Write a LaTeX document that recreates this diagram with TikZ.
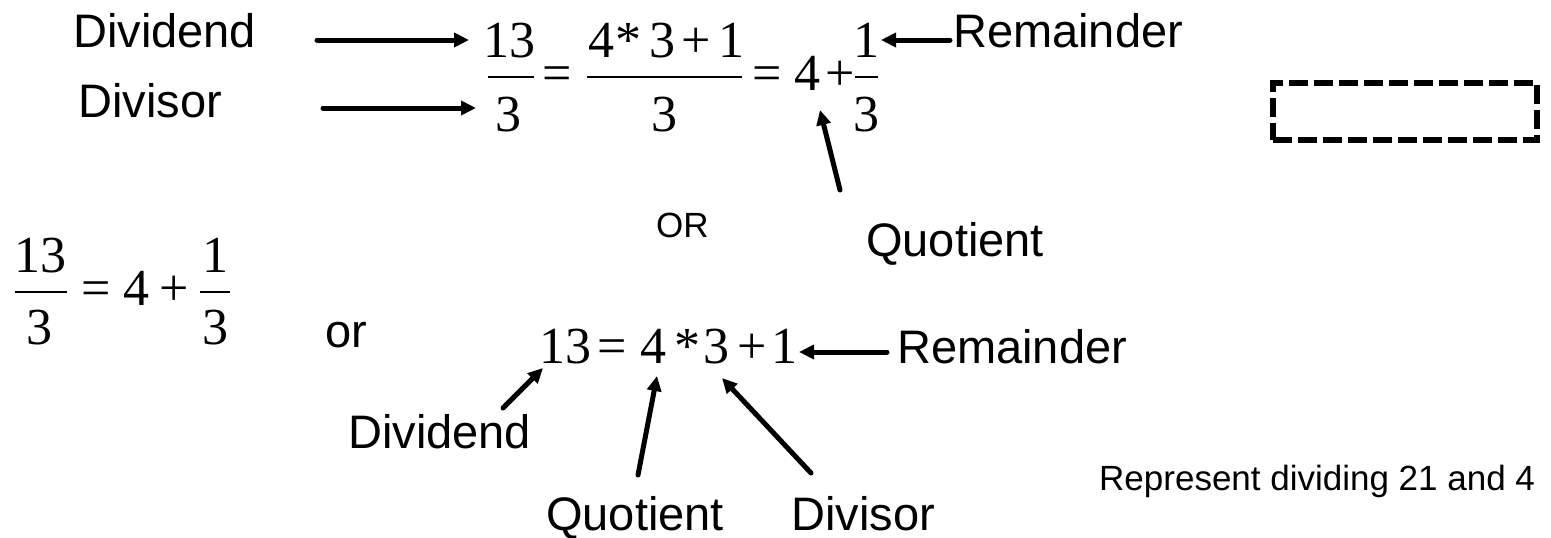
\documentclass[tikz,border=0pt]{standalone}
\usepackage{fontspec}
\setmainfont{Liberation Sans}
\newfontfamily\tms{Liberation Serif}
\usetikzlibrary{arrows.meta}
\tikzset{
 lab/.style={font=\fontsize{47}{50}\selectfont, inner sep=0pt, anchor=base west},
 smalllab/.style={font=\fontsize{35}{38}\selectfont, inner sep=0pt, anchor=base west},
 mth/.style={font=\tms\fontsize{52}{55}\selectfont, inner sep=0pt, anchor=base},
 fbar/.style={line width=2.5pt},
 arr/.style={line width=5pt, line cap=round, -{Triangle[length=15pt,width=14pt]}},
 dbox/.style={draw, line width=6pt, dash pattern=on 19pt off 6pt, minimum width=264pt, minimum height=57pt, inner sep=0pt}
}
\begin{document}
\begin{tikzpicture}[x=1pt,y=-1pt]
\path[use as bounding box] (0,0) rectangle (1551,538);

% ---------- top equation ----------
\node[lab] (dividendA) at (73,47) {Dividend};
\node[lab] (divisorA) at (78,117) {Divisor};
\node[mth] (t13) at (509,57) {13};
\draw[fbar] (488,77) -- (534,77);
\node[mth] (t3a) at (508,131) {3};
\node[mth] (teqa) at (557,90) {=};
\node[mth] (tn4) at (601,57) {4};
\node[mth] (tnst) at (628,57) {*};
\node[mth] (tn3) at (662,57) {3};
\node[mth] (tnp) at (696,57) {+};
\node[mth] (tn1) at (731,57) {1};
\draw[fbar] (587,77) -- (742,77);
\node[mth] (t3b) at (664,131) {3};
\node[mth] (teqb) at (767,90) {=};
\node[mth] (t4) at (807,90) {4};
\node[mth] (tplus) at (840,90) {+};
\node[mth] (t1) at (866,57) {1};
\draw[fbar] (855,77) -- (878,77);
\node[mth] (t3c) at (866,131) {3};
\node[lab] (remA) at (953,47) {Remainder};
\node[lab] (quotA) at (866,256) {Quotient};
\node[smalllab] (orA) at (656,237) {OR};

\coordinate (a1s) at (317,40);  \coordinate (a1e) at (469,40);
\coordinate (a2s) at (323,108); \coordinate (a2e) at (476,108);
\coordinate (a3s) at (950,40);  \coordinate (a3e) at (881,40);
\coordinate (a4s) at (840,190); \coordinate (a4e) at (820,110);
\draw[arr] (a1s) -- (a1e);
\draw[arr] (a2s) -- (a2e);
\draw[arr] (a3s) -- (a3e);
\draw[arr] (a4s) -- (a4e);

% ---------- dashed box ----------
\node[dbox] (box) at (1405,111.5) {};

% ---------- left equation ----------
\node[mth] (l13) at (40,272) {13};
\draw[fbar] (15,292) -- (67,292);
\node[mth] (l3a) at (40,344) {3};
\node[mth] (leq) at (96,305) {=};
\node[mth] (l4) at (136,305) {4};
\node[mth] (lplus) at (174,305) {+};
\node[mth] (l1) at (215,272) {1};
\draw[fbar] (200,292) -- (230,292);
\node[mth] (l3b) at (215,344) {3};

\node[lab] (orB) at (325,347) {or};

% ---------- bottom equation ----------
\node[mth] (b13) at (565,363) {13};
\node[mth] (beq) at (612,363) {=};
\node[mth] (b4) at (653,363) {4};
\node[mth] (bst) at (687,363) {*};
\node[mth] (b3) at (716,363) {3};
\node[mth] (bp) at (752,363) {+};
\node[mth] (b1) at (784,363) {1};
\node[lab] (remB) at (897,363) {Remainder};
\node[lab] (dividendB) at (348,448) {Dividend};
\node[lab] (quotB) at (546,530) {Quotient};
\node[lab] (divisorB) at (791,530) {Divisor};
\node[smalllab] (rep) at (1099,490) {Represent dividing 21 and 4};

\coordinate (b1s) at (887,352); \coordinate (b1e) at (799,352);
\coordinate (b2s) at (503,408); \coordinate (b2e) at (543,368);
\coordinate (b3s) at (638,475); \coordinate (b3e) at (657,376);
\coordinate (b4s) at (811,473); \coordinate (b4e) at (722,378);
\draw[arr] (b1s) -- (b1e);
\draw[arr] (b2s) -- (b2e);
\draw[arr] (b3s) -- (b3e);
\draw[arr] (b4s) -- (b4e);
\end{tikzpicture}
\end{document}
